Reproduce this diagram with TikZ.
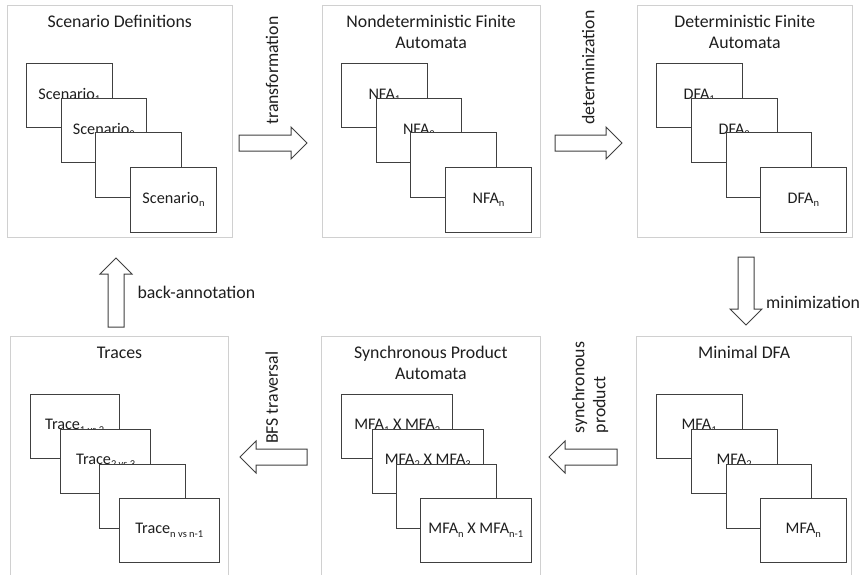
\documentclass[tikz,border=0pt]{standalone}
\usepackage{fontspec}
\setmainfont{Carlito}
\usetikzlibrary{calc}

\definecolor{inkc}{HTML}{1E1E1E}
\definecolor{framec}{HTML}{D0D0D0}
\definecolor{edgec}{HTML}{404040}

% lowered, smaller index text
\newcommand{\lowidx}[1]{\raisebox{-0.2em}{\fontsize{10.5}{12}\selectfont #1}}

% box given by its corners: style, name, x1, y1, x2, y2, text
\newcommand{\boxat}[7]{%
  \node[#1, minimum width={(#5)-(#3)}, minimum height={(#6)-(#4)}]
    (#2) at ({((#3)+(#5))/2},{((#4)+(#6))/2}) {#7};}

% hollow block arrow from a tail point to a tip point
\newcommand{\blockarr}[2]{%
  \coordinate (hb) at ($(#2)!16pt!(#1)$);
  \draw[blockarrow] ($(#1)!8pt!90:(#2)$) -- ($(hb)!8pt!-90:(#1)$)
    -- ($(hb)!16pt!-90:(#1)$) -- (#2) -- ($(hb)!16pt!90:(#1)$)
    -- ($(hb)!8pt!90:(#1)$) -- ($(#1)!8pt!-90:(#2)$) -- cycle;}

\tikzset{
  panel/.style={draw=framec, line width=0.9pt, fill=white, inner sep=0pt},
  title/.style={font=\fontsize{17.8}{21}\selectfont, text=inkc, align=center,
    inner sep=0pt, anchor=base},
  card/.style={draw=edgec, line width=1pt, fill=white, inner sep=0pt,
    font=\fontsize{16.2}{19}\selectfont, text=inkc},
  blockarrow/.style={draw=edgec, line width=1pt, fill=white, line join=miter},
  lbl/.style={font=\fontsize{17.8}{21}\selectfont, text=inkc, inner sep=0pt},
}

\begin{document}
\begin{tikzpicture}[x=1pt, y=-1pt]
\useasboundingbox (0,0) rectangle (862,574);
\clip (0,0) rectangle (862,574);

% stage panels
\boxat{panel}{P1}{7.3}{5}{232.3}{237.5}{}
\boxat{panel}{P2}{322.3}{5}{540}{237.5}{}
\boxat{panel}{P3}{637.3}{5}{852.3}{237.5}{}
\boxat{panel}{P4}{10.7}{336}{228.3}{600}{}
\boxat{panel}{P5}{321.7}{336}{540}{600}{}
\boxat{panel}{P6}{636.7}{336}{851.7}{600}{}

% panel titles (anchored on the baseline of their last line)
\node[title] (T1) at (P1.center |- 0,27.3) {Scenario Definitions};
\node[title] (T2) at (P2.center |- 0,48.3) {Nondeterministic Finite\\Automata};
\node[title] (T3) at (P3.center |- 0,48.3) {Deterministic Finite\\Automata};
\node[title] (T4) at (P4.center |- 0,358.3) {Traces};
\node[title] (T5) at (P5.center |- 0,379.3) {Synchronous Product\\Automata};
\node[title] (T6) at (P6.center |- 0,358.3) {Minimal DFA};

% stacked cards, scenarios
\boxat{card}{S1}{26.7}{63.3}{112}{127.7}{Scenario\lowidx{1}}
\boxat{card}{S2}{61}{98.3}{146.7}{162.7}{Scenario\lowidx{2}}
\boxat{card}{S3}{95.7}{132.7}{181.7}{197.3}{}
\boxat{card}{S4}{130.3}{167.3}{216.7}{232}{Scenario\lowidx{n}}

% stacked cards, NFA
\boxat{card}{N1}{341.7}{63.3}{427}{127.7}{NFA\lowidx{1}}
\boxat{card}{N2}{376}{98.3}{461.7}{162.7}{NFA\lowidx{2}}
\boxat{card}{N3}{410.7}{132.7}{496.7}{197.3}{}
\boxat{card}{N4}{445.3}{167.3}{531.7}{232}{NFA\lowidx{n}}

% stacked cards, DFA
\boxat{card}{D1}{656}{63.3}{742.3}{127.7}{DFA\lowidx{1}}
\boxat{card}{D2}{691}{98.3}{777.3}{162.7}{DFA\lowidx{2}}
\boxat{card}{D3}{726}{132.7}{811.7}{197.3}{}
\boxat{card}{D4}{760}{167.3}{846.7}{232}{DFA\lowidx{n}}

% stacked cards, traces
\boxat{card}{R1}{30}{394.3}{119.3}{458.3}{Trace\lowidx{1 vs 2}}
\boxat{card}{R2}{60.7}{429}{150.7}{493.3}{Trace\lowidx{2 vs 3}}
\boxat{card}{R3}{99.3}{464}{185.3}{528.3}{}
\boxat{card}{R4}{119.3}{498.3}{219.3}{562.3}{Trace\lowidx{n vs n-1}}

% stacked cards, product automata
\boxat{card}{X1}{341.7}{394.3}{452.7}{458.3}{MFA\lowidx{1} X MFA\lowidx{2}}
\boxat{card}{X2}{372.3}{429}{483.3}{493.3}{MFA\lowidx{2} X MFA\lowidx{3}}
\boxat{card}{X3}{396.3}{464}{496.7}{528.3}{}
\boxat{card}{X4}{420}{498.3}{531.7}{562.3}{MFA\lowidx{n} X MFA\lowidx{n-1}}

% stacked cards, minimal DFA
\boxat{card}{M1}{656}{394.3}{742.3}{458.3}{MFA\lowidx{1}}
\boxat{card}{M2}{691}{429}{777.3}{493.3}{MFA\lowidx{2}}
\boxat{card}{M3}{726}{464}{811.7}{528.3}{}
\boxat{card}{M4}{760}{498.3}{846.7}{562.3}{MFA\lowidx{n}}

% arrow end points
\coordinate (a1s) at (239,143);   \coordinate (a1e) at (307,143);
\coordinate (a2s) at (555,143);   \coordinate (a2e) at (622,143);
\coordinate (a3s) at (746,257);   \coordinate (a3e) at (746,325);
\coordinate (a4s) at (617,457);   \coordinate (a4e) at (549,457);
\coordinate (a5s) at (307,457);   \coordinate (a5e) at (240,457);
\coordinate (a6s) at (116,327);   \coordinate (a6e) at (116,258);

\blockarr{a1s}{a1e}
\blockarr{a2s}{a2e}
\blockarr{a3s}{a3e}
\blockarr{a4s}{a4e}
\blockarr{a5s}{a5e}
\blockarr{a6s}{a6e}

% step labels
\node[lbl, rotate=90, anchor=west] (L1) at (272,125) {transformation};
\node[lbl, rotate=90, anchor=west] (L2) at (588.3,125) {determinization};
\node[lbl, anchor=base west] (L3) at (766,308) {minimization};
\node[lbl, rotate=90, anchor=west, align=left] (L4) at (590,433.3) {synchronous\\product};
\node[lbl, rotate=90, anchor=west] (L5) at (271.7,444) {BFS traversal};
\node[lbl, anchor=base west] (L6) at (137.3,298.3) {back-annotation};
\end{tikzpicture}
\end{document}
